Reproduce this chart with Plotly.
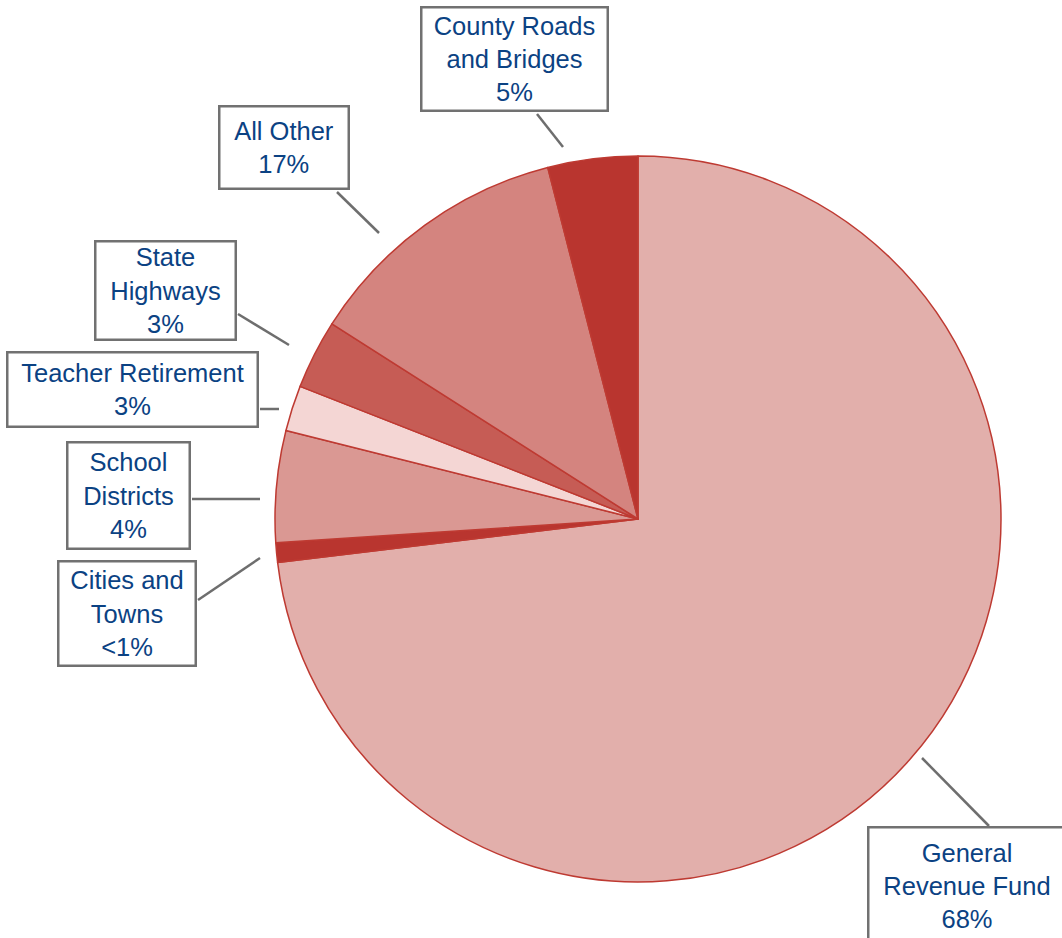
import plotly.graph_objects as go

W, H = 1062, 938

# Slice shares as drawn (clockwise from 12 o'clock)
categories = ["General Revenue Fund", "Cities and Towns", "School Districts",
              "Teacher Retirement", "State Highways", "All Other",
              "County Roads and Bridges"]
values = [73.1, 0.86, 4.97, 2.03, 3.08, 11.97, 4.0]
label_texts = ["General<br>Revenue Fund<br>68%", "Cities and<br>Towns<br>&lt;1%",
               "School<br>Districts<br>4%", "Teacher Retirement<br>3%",
               "State<br>Highways<br>3%", "All Other<br>17%",
               "County Roads<br>and Bridges<br>5%"]
colors = ["#E2AFAB", "#B9352F", "#DA9893", "#F4D6D4", "#C65C55", "#D4847F", "#B9352F"]

# label boxes in pixels: (left, top, right, bottom)
boxes = [(867, 826, 1066, 945), (57, 560, 196, 666), (66, 441, 190, 549),
         (6, 352, 258, 428), (94, 240, 236, 340), (218, 106, 349, 190),
         (420, 6, 608, 111)]
# leader lines in pixels
leaders = [((922, 758), (989, 826)), ((198, 600), (260, 558)), ((192, 499), (260, 499)),
           ((260, 409), (279, 409)), ((238, 314), (289, 345)), ((337, 192), (379, 233)),
           ((537, 114), (563, 147))]

cx, cy, r = 638, 519, 363

fig = go.Figure(go.Pie(
    labels=categories, values=values, sort=False, direction="clockwise", rotation=0,
    marker=dict(colors=colors, line=dict(color="#BE3A32", width=1.5)),
    textinfo="none", hoverinfo="label", showlegend=False,
    domain=dict(x=[(cx - r) / W, (cx + r) / W], y=[1 - (cy + r) / H, 1 - (cy - r) / H]),
))

def px(x):
    return x / W

def py(y):
    return 1 - y / H

shapes = []
for (x0, y0), (x1, y1) in leaders:
    shapes.append(dict(type="line", xref="paper", yref="paper",
                       x0=px(x0), y0=py(y0), x1=px(x1), y1=py(y1),
                       line=dict(color="#6E6E6E", width=2.5)))

annotations = []
for txt, (l, t, rr, b) in zip(label_texts, boxes):
    annotations.append(dict(
        text=txt, xref="paper", yref="paper",
        x=px((l + rr) / 2), y=py((t + b) / 2), xanchor="center", yanchor="middle",
        showarrow=False, align="center",
        width=rr - l - 4, height=b - t - 4, borderpad=0,
        bordercolor="#717171", borderwidth=2.5, bgcolor="white",
        font=dict(family="Liberation Sans, Arial, sans-serif", size=25.5, color="#0B4283"),
    ))

fig.update_layout(
    width=W, height=H, margin=dict(l=0, r=0, t=0, b=0),
    paper_bgcolor="white", plot_bgcolor="white",
    shapes=shapes, annotations=annotations,
)

fig.write_html("out.html", config={"displayModeBar": False},
               post_script="document.body.style.margin='0';")
